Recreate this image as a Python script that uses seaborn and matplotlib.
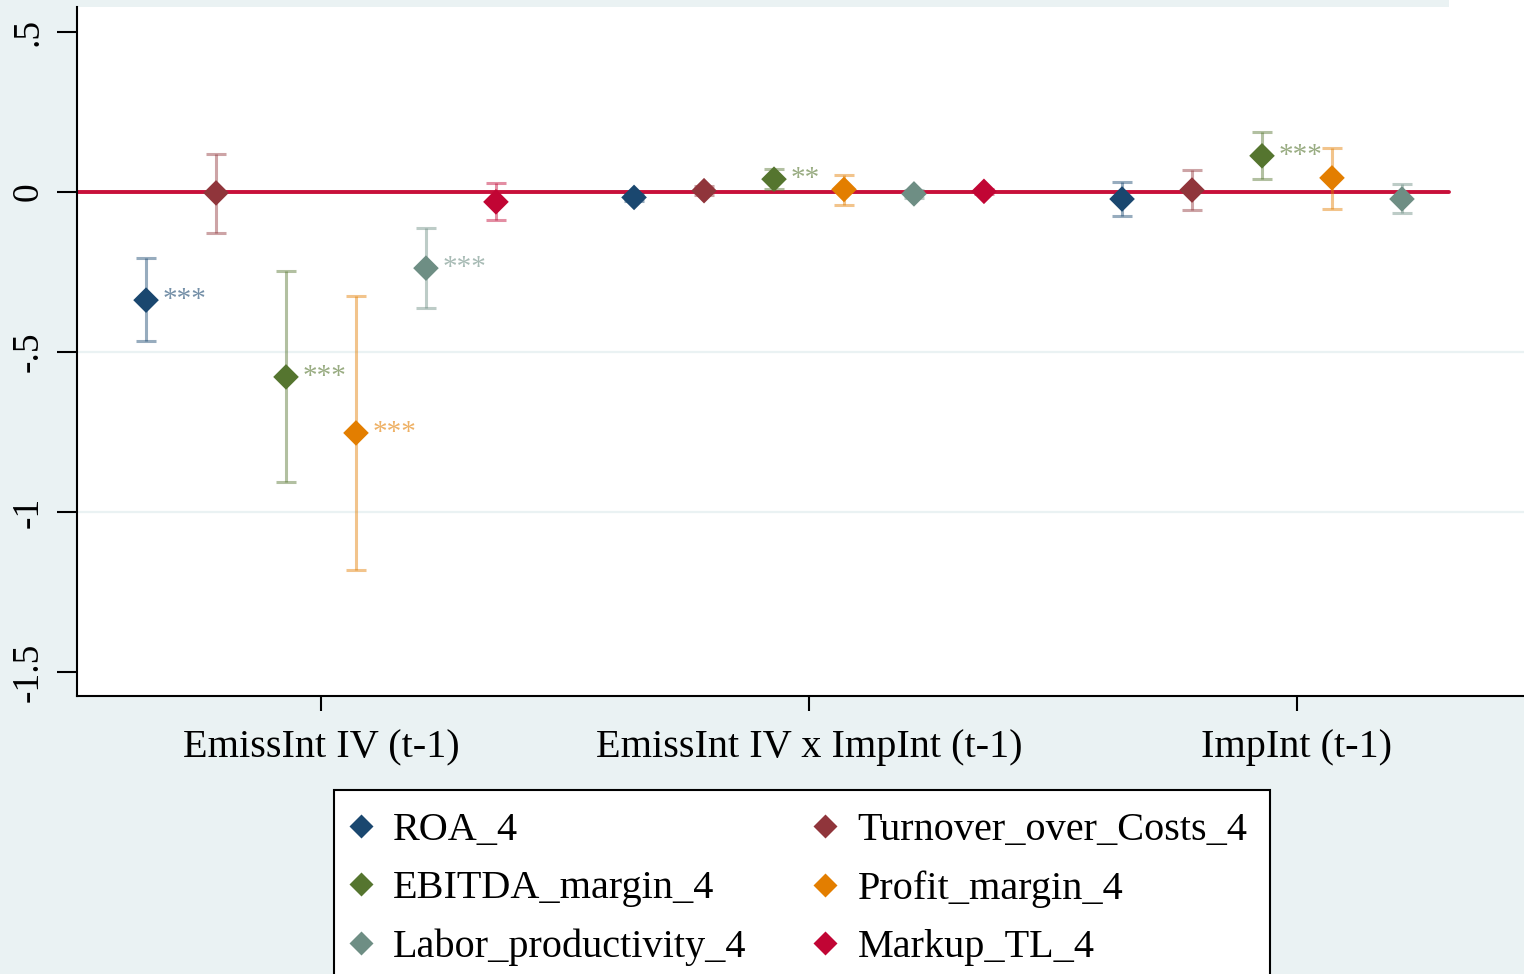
import numpy as np
import pandas as pd
import matplotlib
matplotlib.use("Agg")
import matplotlib.pyplot as plt
from matplotlib.lines import Line2D
from matplotlib.patches import Rectangle
import seaborn as sns

# ---------------- data ----------------
categories = ["EmissInt IV (t-1)", "EmissInt IV x ImpInt (t-1)", "ImpInt (t-1)"]
series = ["ROA_4", "Turnover_over_Costs_4", "EBITDA_margin_4",
          "Profit_margin_4", "Labor_productivity_4", "Markup_TL_4"]
colors = ["#1a476f", "#90353b", "#55752f", "#e37e00", "#6e8e84", "#c10534"]

# coefficients per series (one value per category)
coef = {
    "ROA_4":                 [-0.338, -0.017, -0.022],
    "Turnover_over_Costs_4": [-0.003,  0.004,  0.006],
    "EBITDA_margin_4":       [-0.578,  0.040,  0.113],
    "Profit_margin_4":       [-0.753,  0.008,  0.044],
    "Labor_productivity_4":  [-0.238, -0.006, -0.022],
    "Markup_TL_4":           [-0.031,  0.002, np.nan],
}
ci_low = {
    "ROA_4":                 [-0.466, -0.027, -0.076],
    "Turnover_over_Costs_4": [-0.128, -0.010, -0.057],
    "EBITDA_margin_4":       [-0.906,  0.008,  0.040],
    "Profit_margin_4":       [-1.181, -0.040, -0.052],
    "Labor_productivity_4":  [-0.363, -0.018, -0.067],
    "Markup_TL_4":           [-0.088, -0.006, np.nan],
}
ci_high = {
    "ROA_4":                 [-0.206, -0.007,  0.032],
    "Turnover_over_Costs_4": [ 0.119,  0.018,  0.068],
    "EBITDA_margin_4":       [-0.247,  0.071,  0.188],
    "Profit_margin_4":       [-0.325,  0.052,  0.138],
    "Labor_productivity_4":  [-0.113,  0.006,  0.026],
    "Markup_TL_4":           [ 0.028,  0.010, np.nan],
}
stars = {
    "ROA_4":                 ["***", "", ""],
    "Turnover_over_Costs_4": ["", "", ""],
    "EBITDA_margin_4":       ["***", "**", "***"],
    "Profit_margin_4":       ["***", "", ""],
    "Labor_productivity_4":  ["***", "", ""],
    "Markup_TL_4":           ["", "", ""],
}
yticks = [0.5, 0, -0.5, -1, -1.5]
ytick_labels = [".5", "0", "-.5", "-1", "-1.5"]

# ---------------- table ----------------
dodge = 0.1434
rows = []
for i, s in enumerate(series):
    for j, c in enumerate(categories):
        rows.append(dict(series=s, category=c, cat_idx=j,
                         xpos=j + (i - 2.5) * dodge,
                         coef=coef[s][j], lo=ci_low[s][j], hi=ci_high[s][j],
                         star=stars[s][j]))
df = pd.DataFrame(rows)

# ---------------- style ----------------
sns.set_theme(style="white")
serif = ["Liberation Serif", "DejaVu Serif"]
plt.rcParams["font.family"] = serif
plt.rcParams["text.color"] = "black"

BG = "#eaf2f3"
fig = plt.figure(figsize=(15.24, 9.74), dpi=100, facecolor=BG)
ax = fig.add_axes([77 / 1524, 1 - 696 / 974, 1464 / 1524, 689 / 974])
ax.set_facecolor("white")

# grid lines
for g in [-0.5, -1.0]:
    ax.axhline(g, color=BG, lw=1.6, zorder=0)
# zero line
ax.axhline(0, xmin=0, xmax=(1449 - 77) / 1464, color="#c8103a", lw=2.8, zorder=1)

# confidence intervals
for i, s in enumerate(series):
    d = df[(df.series == s) & df.coef.notna()]
    ax.errorbar(d.xpos, d.coef, yerr=[d.coef - d.lo, d.hi - d.coef], fmt="none",
                ecolor=colors[i], alpha=0.45, elinewidth=2.2, capsize=7.5,
                capthick=2.2, zorder=2)

# point estimates
sns.scatterplot(data=df.dropna(subset=["coef"]), x="xpos", y="coef", hue="series",
                hue_order=series, palette=colors, marker="D", s=170,
                linewidth=0, legend=False, ax=ax, zorder=3)

# significance stars
for i, s in enumerate(series):
    d = df[(df.series == s) & (df.star != "")]
    for _, r in d.iterrows():
        ax.annotate(r.star, (r.xpos, r.coef), xytext=(12, 2),
                    textcoords="offset points", ha="left", va="center_baseline",
                    fontsize=21, color=colors[i], alpha=0.6, zorder=4)

ax.set_xlim(-0.5, 2.5)
ax.set_ylim(-1.575, 0.578)
ax.set_xticks(range(len(categories)))
ax.set_xticklabels(categories, fontsize=29)
ax.set_yticks(yticks)
ax.set_yticklabels(ytick_labels, fontsize=27, rotation=90, va="center")
ax.set_xlabel("")
ax.set_ylabel("")
ax.tick_params(axis="y", length=14.5, width=1.5, pad=8, colors="black", left=True)
ax.tick_params(axis="x", length=11, width=1.5, pad=13, colors="black", bottom=True)
for sp in ["top", "right"]:
    ax.spines[sp].set_visible(False)
for sp in ["left", "bottom"]:
    ax.spines[sp].set_color("black")
    ax.spines[sp].set_linewidth(1.5)

# white strip top-right
fig.patches.append(Rectangle((1449 / 1524, 1 - 7 / 974), 75 / 1524, 7 / 974,
                             transform=fig.transFigure, facecolor="white",
                             edgecolor="none", zorder=0))

# legend (row-major order as in the reference: 2 columns)
order = [0, 2, 4, 1, 3, 5]
handles = [Line2D([0], [0], marker="D", color="none", markerfacecolor=colors[k],
                  markeredgecolor="none", markersize=12) for k in order]
labels = [series[k] for k in order]
leg = fig.legend(handles, labels, loc="upper left",
                 bbox_to_anchor=(334 / 1524, 1 - 790 / 974), ncol=2,
                 fontsize=29, frameon=True, fancybox=False, framealpha=1,
                 edgecolor="black", borderpad=0.55, handlelength=0.22,
                 handletextpad=0.7, columnspacing=1.83, labelspacing=0.52,
                 borderaxespad=0)
leg.get_frame().set_linewidth(1.5)

fig.savefig("out.png", dpi=100, facecolor=BG)
